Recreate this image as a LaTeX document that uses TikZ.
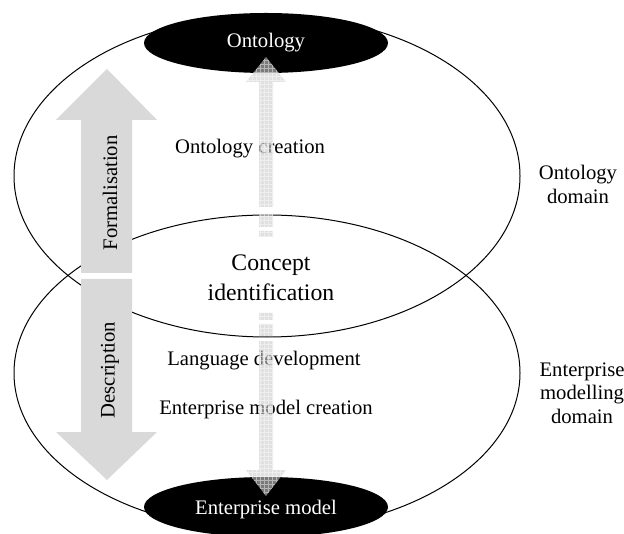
\documentclass[tikz,border=0pt]{standalone}
\usepackage{fontspec}
\setmainfont{Liberation Serif}
\definecolor{arrgrey}{RGB}{217,217,217}

\tikzset{every picture/.style={line width=0.75pt}}
\tikzset{
  lbl/.style={font=\fontsize{15.5}{17.6}\selectfont, inner sep=0pt, align=center},
  biglbl/.style={font=\fontsize{17.8}{22.5}\selectfont, inner sep=0pt, align=center},
  bigarrow/.style={fill=arrgrey, draw=none},
  gridfill/.style={fill=gray!40, fill opacity=0.6},
  gridline/.style={draw=white, draw opacity=0.45, line width=0.4pt},
}

\begin{document}
\begin{tikzpicture}[x=0.75pt,y=0.75pt,yscale=-1,xscale=1]
\useasboundingbox (0,0) rectangle (624,534);

%Shape: Ellipse [ontology domain]
\draw (267,176) ellipse (253 and 161);
%Shape: Ellipse [enterprise modelling domain]
\draw (267,373) ellipse (253 and 158);
%Shape: Ellipse [ontology]
\fill (266,43) ellipse (122 and 30);
%Shape: Ellipse [enterprise model]
\fill (266,507) ellipse (122 and 30);

%Shape: Up Arrow [formalisation]
\path[bigarrow] (107,69) -- (157,120) -- (132,120) -- (132,273) -- (81,273) -- (81,120) -- (56,120) -- cycle;
%Shape: Down Arrow [description]
\path[bigarrow] (81,279) -- (132,279) -- (132,432) -- (157,432) -- (107,480) -- (56,432) -- (81,432) -- cycle;

% Text Node
\draw (266,43) node (onto) [lbl, text=white] {Ontology};
% Text Node
\draw (266,510) node (entm) [lbl, text=white] {Enterprise model};
% Text Node
\draw (250,149) node (ontcre) [lbl] {Ontology creation};
% Text Node
\draw (271,278) node (concid) [biglbl] {Concept\\identification};
% Text Node
\draw (264,361) node (langdev) [lbl] {Language development};
% Text Node
\draw (266,410) node (entmcre) [lbl] {Enterprise model creation};
% Text Node
\draw (578,184) node (ontdom) [lbl, font=\fontsize{15.5}{18}\selectfont] {Ontology\\domain};
% Text Node
\draw (582,393) node (entdom) [lbl] {Enterprise\\modelling\\domain};
% Text Node
\draw (110,193) node (formal) [lbl, rotate=90] {Formalisation};
% Text Node
\draw (110,370) node (descr) [lbl, rotate=90] {Description};

%Shape: Up and Down Arrow [ontology / enterprise model creation]
\begin{scope}
\clip (266,57) -- (286,82) -- (273,82) -- (273,207) -- (259,207) -- (259,82) -- (246,82) -- cycle
      (259,214) rectangle (273,227)
      (259,231) rectangle (273,237)
      (259,313) rectangle (273,320)
      (259,324) rectangle (273,336)
      (259,341) -- (273,341) -- (273,470) -- (286,470) -- (266,496) -- (246,470) -- (259,470) -- cycle;
\path[gridfill] (240,50) rectangle (292,500);
\draw[gridline, step=3pt] (240,50) grid (292,500);
\end{scope}

\end{tikzpicture}
\end{document}
